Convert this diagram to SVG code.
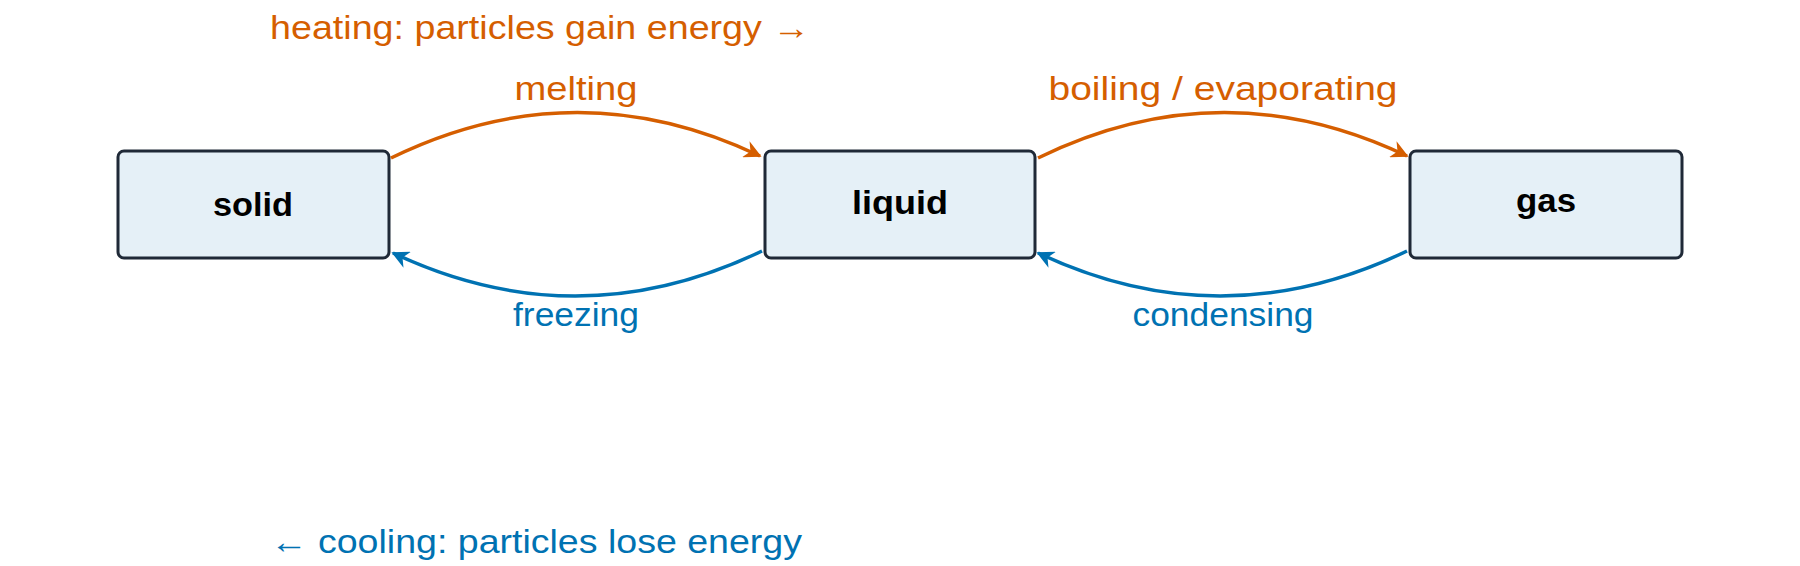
<svg xmlns="http://www.w3.org/2000/svg" width="1800" height="566" viewBox="0 0 1800 566">
<style>
.node rect{fill:#e5f0f7;stroke:#1f2937;stroke-width:3}
.node text{font-family:"Liberation Sans",Arial,sans-serif;font-weight:bold;font-size:33px;fill:#000;text-anchor:middle}
.lbl{font-family:"Liberation Sans",Arial,sans-serif;font-size:33px}
.h{fill:#d55e00}.c{fill:#0072b2}
.ah{fill:none;stroke:#d55e00;stroke-width:3.5}
.ac{fill:none;stroke:#0072b2;stroke-width:3.5}
</style>
<defs>
<marker id="mh" viewBox="0 0 10 10" refX="9" refY="5" markerWidth="5" markerHeight="5" orient="auto"><path d="M0,0 L10,5 L0,10 L3,5 Z" fill="#d55e00"/></marker>
<marker id="mc" viewBox="0 0 10 10" refX="9" refY="5" markerWidth="5" markerHeight="5" orient="auto"><path d="M0,0 L10,5 L0,10 L3,5 Z" fill="#0072b2"/></marker>
</defs>
<g id="solid" class="node"><rect x="118" y="151" width="271" height="107" rx="6"/><text x="253" y="216" textLength="80" lengthAdjust="spacingAndGlyphs">solid</text></g>
<g id="liquid" class="node"><rect x="765" y="151" width="270" height="107" rx="6"/><text x="900" y="214" textLength="96" lengthAdjust="spacingAndGlyphs">liquid</text></g>
<g id="gas" class="node"><rect x="1410" y="151" width="272" height="107" rx="6"/><text x="1546" y="212" textLength="60" lengthAdjust="spacingAndGlyphs">gas</text></g>
<g id="connectors">
<path class="ah" d="M391,158 Q575,68 760,156" marker-end="url(#mh)"/>
<path class="ah" d="M1038,158 Q1222,68 1407,156" marker-end="url(#mh)"/>
<path class="ac" d="M762,251 Q577,340 393,253" marker-end="url(#mc)"/>
<path class="ac" d="M1407,251 Q1222,340 1038,253" marker-end="url(#mc)"/>
</g>
<text class="lbl h" x="270" y="39" textLength="540" lengthAdjust="spacingAndGlyphs">heating: particles gain energy →</text>
<text class="lbl h" x="576" y="100" text-anchor="middle" textLength="123" lengthAdjust="spacingAndGlyphs">melting</text>
<text class="lbl h" x="1223" y="100" text-anchor="middle" textLength="349" lengthAdjust="spacingAndGlyphs">boiling / evaporating</text>
<text class="lbl c" x="576" y="326" text-anchor="middle" textLength="126" lengthAdjust="spacingAndGlyphs">freezing</text>
<text class="lbl c" x="1223" y="326" text-anchor="middle" textLength="181" lengthAdjust="spacingAndGlyphs">condensing</text>
<text class="lbl c" x="270" y="553" textLength="532" lengthAdjust="spacingAndGlyphs">← cooling: particles lose energy</text>
</svg>
